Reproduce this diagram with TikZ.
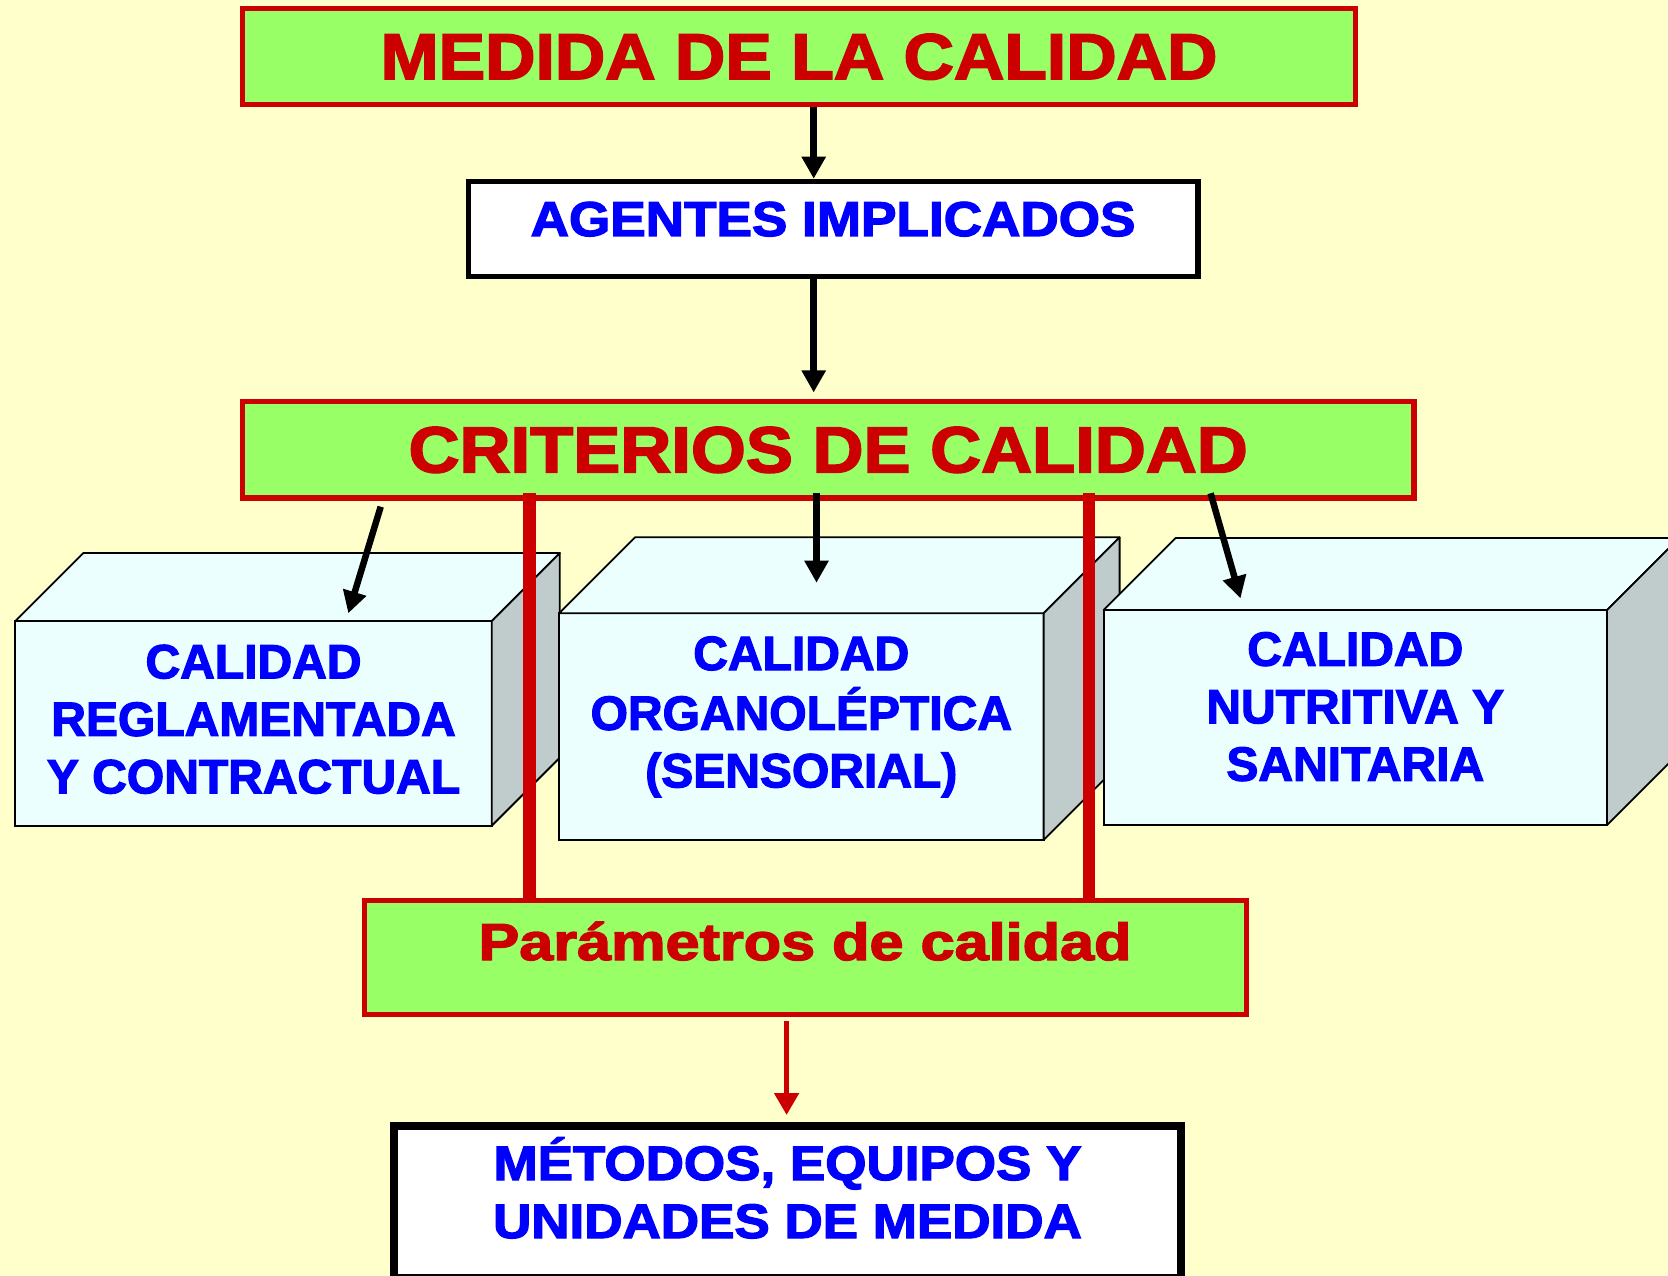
\documentclass[tikz,border=0pt]{standalone}
\usepackage{fontspec}
\setmainfont{Liberation Sans}[BoldFeatures={FakeBold=2.5}]
\usetikzlibrary{arrows.meta}
\definecolor{bg}{HTML}{FFFFCC}
\definecolor{lgreen}{HTML}{99FF66}
\definecolor{dred}{HTML}{CC0000}
\definecolor{bblue}{HTML}{0000FF}
\definecolor{face}{HTML}{EBFFFF}
\definecolor{side}{HTML}{C0CCCC}
\begin{document}
\begin{tikzpicture}[x=1pt,y=-1pt,
  greenbox/.style={draw=dred, line width=5.5pt, fill=lgreen, inner sep=0pt, text=dred},
  whitebox/.style={draw=black, line width=5.5pt, fill=white, inner sep=0pt, text=bblue},
  front/.style={draw=black, line width=1.8pt, fill=face, inner sep=0pt, outer sep=0pt, text=bblue,
    font=\fontsize{48}{57.5}\selectfont\bfseries},
  topface/.style={draw=black, line width=1.8pt, fill=face, line join=round},
  sideface/.style={draw=black, line width=1.8pt, fill=side, line join=round},
  arr/.style={draw=black, line width=6.5pt, -{Triangle[length=22pt,width=23pt]}},
  redarr/.style={draw=dred, line width=5pt, -{Triangle[length=22pt,width=24pt]}},
  redbar/.style={draw=dred, line width=12.5pt}
]
\useasboundingbox (0,0) rectangle (1668,1276);
\fill[bg] (0,0) rectangle (1668,1276);
\clip (0,0) rectangle (1668,1276);

% top boxes
\node[greenbox, minimum width=1113.3pt, minimum height=96.2pt, text height=46.3pt, text depth=1.1pt,
  font=\fontsize{64.7}{70}\selectfont\bfseries] (medida) at (799,56.4)
  {\scalebox{1.078}[1]{MEDIDA DE LA CALIDAD}};
\node[whitebox, minimum width=729.4pt, minimum height=95.2pt, text height=35pt, text depth=21.2pt,
  font=\fontsize{48.9}{55}\selectfont\bfseries] (agentes) at (833.1,229.1)
  {\scalebox{1.086}[1]{AGENTES IMPLICADOS}};
\node[greenbox, minimum width=1171.7pt, minimum height=96.1pt, text height=46.5pt, text depth=1.4pt,
  font=\fontsize{65}{70}\selectfont\bfseries] (crit) at (828.2,449.75)
  {\scalebox{1.086}[1]{CRITERIOS DE CALIDAD}};

% 3D boxes
\node[front, minimum width=476.5pt, minimum height=204.7pt, text height=35pt, text depth=125.1pt]
  (b1) at (253.55,723.35)
  {\begin{tabular}[t]{@{}c@{}}CALIDAD\\REGLAMENTADA\\Y CONTRACTUAL\end{tabular}};
\path[topface] (b1.north west) -- ++(68,-68) -- ++(476.5,0) -- (b1.north east) -- cycle;
\path[sideface] (b1.north east) -- ++(68,-68) -- ++(0,204.7) -- (b1.south east) -- cycle;

\node[front, minimum width=484.6pt, minimum height=226.7pt, text height=35pt, text depth=148.3pt]
  (b2) at (801.3,726.65)
  {\begin{tabular}[t]{@{}c@{}}CALIDAD\\ORGANOLÉPTICA\\(SENSORIAL)\end{tabular}};
\path[topface] (b2.north west) -- ++(76,-76) -- ++(484.6,0) -- (b2.north east) -- cycle;
\path[sideface] (b2.north east) -- ++(76,-76) -- ++(0,226.7) -- (b2.south east) -- cycle;

\node[front, minimum width=503.4pt, minimum height=215pt, text height=35pt, text depth=138.6pt]
  (b3) at (1355.3,717.5)
  {\begin{tabular}[t]{@{}c@{}}CALIDAD\\NUTRITIVA Y\\SANITARIA\end{tabular}};
\path[topface] (b3.north west) -- ++(72,-72) -- ++(503.4,0) -- (b3.north east) -- cycle;
\path[sideface] (b3.north east) -- ++(72,-72) -- ++(0,215) -- (b3.south east) -- cycle;

% lower boxes
\node[greenbox, line width=5pt, minimum width=882pt, minimum height=114.1pt, text height=37pt, text depth=32pt,
  font=\fontsize{52}{60}\selectfont\bfseries] (param) at (805,957.5)
  {\scalebox{1.177}[1]{Parámetros de calidad}};
\node[whitebox, line width=8pt, minimum width=787pt, minimum height=152pt, text height=35pt, text depth=79pt,
  font=\fontsize{48.4}{58}\selectfont\bfseries] (metodos) at (787.5,1202)
  {\scalebox{1.095}[1]{\begin{tabular}[t]{@{}c@{}}MÉTODOS, EQUIPOS Y\\UNIDADES DE MEDIDA\end{tabular}}};

% red bars
\coordinate (bl) at (529.7,0);
\coordinate (br) at (1088.8,0);
\draw[redbar, shorten <=-8pt] (crit.south -| bl) -- (param.north -| bl);
\draw[redbar, shorten <=-8pt] (crit.south -| br) -- (param.north -| br);

% arrows
\coordinate (ax) at (813.7,0);
\draw[arr] (medida.south -| ax) -- (agentes.north -| ax);
\draw[arr, shorten >=6.5pt] (agentes.south -| ax) -- (crit.north -| ax);

\coordinate (s1) at (380.7,506.7);
\coordinate (e1) at (348.3,613.3);
\draw[arr] (s1) -- (e1);
\coordinate (e2) at (816.5,582.7);
\draw[arr, shorten <=-8pt] (crit.south -| e2) -- (e2);
\coordinate (s3) at (1210.6,493.3);
\coordinate (e3) at (1240.5,598.3);
\draw[arr] (s3) -- (e3);

\coordinate (rx) at (786.6,0);
\draw[redarr, shorten <=4pt, shorten >=7pt] (param.south -| rx) -- (metodos.north -| rx);
\end{tikzpicture}
\end{document}
